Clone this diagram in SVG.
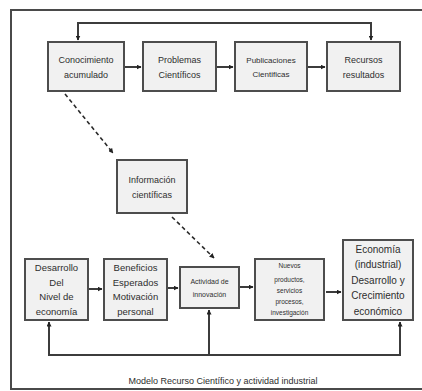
<svg xmlns="http://www.w3.org/2000/svg" width="422" height="391" viewBox="0 0 422 391">
  <style>
    .frame { fill: #ffffff; stroke: #4a4a4a; stroke-width: 2; }
    .box { fill: #f1f1f1; stroke: #4d4d4d; stroke-width: 2; }
    .lbl { font-family: "Liberation Sans", Arial, sans-serif; fill: #2e2e2e; text-anchor: middle; }
    .line { fill: none; stroke: #3c3c3c; stroke-width: 2; }
    .dash { fill: none; stroke: #2a2a2a; stroke-width: 1.6; stroke-dasharray: 4 3; }
  </style>
  <defs>
    <marker id="arr" viewBox="0 0 10 10" refX="9" refY="5" markerWidth="5" markerHeight="5" orient="auto" markerUnits="userSpaceOnUse">
      <path d="M0,0 L10,5 L0,10 z" fill="#222"/>
    </marker>
  </defs>

  <!-- outer frame -->
  <rect class="frame" x="11" y="10" width="420" height="379"/>

  <!-- connectors -->
  <g id="connectors">
    <path class="line" d="M78,40 V23 H371 V40" />
    <path class="line" d="M78,30 V40" marker-end="url(#arr)"/>
    <path class="line" d="M371,30 V40" marker-end="url(#arr)"/>
    <path class="line" d="M125,67 H141" marker-end="url(#arr)"/>
    <path class="line" d="M217,67 H233" marker-end="url(#arr)"/>
    <path class="line" d="M308,67 H325" marker-end="url(#arr)"/>
    <path class="dash" d="M65,94 L113,153" marker-end="url(#arr)"/>
    <path class="dash" d="M172,217 L214,258" marker-end="url(#arr)"/>
    <path class="line" d="M89,289 H102" marker-end="url(#arr)"/>
    <path class="line" d="M168,288 H178" marker-end="url(#arr)"/>
    <path class="line" d="M240,287 H253" marker-end="url(#arr)"/>
    <path class="line" d="M326,292 H341" marker-end="url(#arr)"/>
    <path class="line" d="M49,322 V355 H400 V322" />
    <path class="line" d="M49,332 V322" marker-end="url(#arr)"/>
    <path class="line" d="M400,332 V322" marker-end="url(#arr)"/>
    <path class="line" d="M209,355 V310" marker-end="url(#arr)"/>
  </g>

  <g id="conocimiento">
    <rect class="box" x="48" y="42" width="76" height="49"/>
    <text class="lbl" font-size="9" x="86" y="63">Conocimiento</text>
    <text class="lbl" font-size="9" x="86" y="78">acumulado</text>
  </g>
  <g id="problemas">
    <rect class="box" x="143" y="42" width="73" height="49"/>
    <text class="lbl" font-size="9" x="179.5" y="63">Problemas</text>
    <text class="lbl" font-size="9" x="179.5" y="78">Científicos</text>
  </g>
  <g id="publicaciones">
    <rect class="box" x="235" y="42" width="72" height="49"/>
    <text class="lbl" font-size="8" x="271" y="63">Publicaciones</text>
    <text class="lbl" font-size="8" x="271" y="77">Cientificas</text>
  </g>
  <g id="recursos">
    <rect class="box" x="327" y="42" width="73" height="49"/>
    <text class="lbl" font-size="9" x="363.5" y="63">Recursos</text>
    <text class="lbl" font-size="9" x="363.5" y="78">resultados</text>
  </g>

  <g id="informacion">
    <rect class="box" x="117" y="160" width="70" height="53"/>
    <text class="lbl" font-size="9" x="152" y="183">Información</text>
    <text class="lbl" font-size="9" x="152" y="198">científicas</text>
  </g>

  <g id="desarrollo">
    <rect class="box" x="25" y="259" width="63" height="61"/>
    <text class="lbl" font-size="9.5" x="56.5" y="271">Desarrollo</text>
    <text class="lbl" font-size="9.5" x="56.5" y="286">Del</text>
    <text class="lbl" font-size="9.5" x="56.5" y="300">Nivel de</text>
    <text class="lbl" font-size="9.5" x="56.5" y="315">economía</text>
  </g>
  <g id="beneficios">
    <rect class="box" x="104" y="259" width="63" height="61"/>
    <text class="lbl" font-size="9.5" x="135.5" y="271">Beneficios</text>
    <text class="lbl" font-size="9.5" x="135.5" y="286">Esperados</text>
    <text class="lbl" font-size="9.5" x="135.5" y="300">Motivación</text>
    <text class="lbl" font-size="9.5" x="135.5" y="315">personal</text>
  </g>
  <g id="actividad">
    <rect class="box" x="180" y="267" width="59" height="41"/>
    <text class="lbl" font-size="7" x="209.5" y="284">Actividad de</text>
    <text class="lbl" font-size="7" x="209.5" y="297">innovación</text>
  </g>
  <g id="nuevos">
    <rect class="box" x="255" y="259" width="69" height="61"/>
    <text class="lbl" font-size="6.5" x="289.5" y="268">Nuevos</text>
    <text class="lbl" font-size="6.5" x="289.5" y="282">productos,</text>
    <text class="lbl" font-size="6.5" x="289.5" y="293">servicios</text>
    <text class="lbl" font-size="6.5" x="289.5" y="304">procesos,</text>
    <text class="lbl" font-size="6.5" x="289.5" y="315">investigación</text>
  </g>
  <g id="economia">
    <rect class="box" x="343" y="240" width="70" height="80"/>
    <text class="lbl" font-size="10" x="378" y="253">Economía</text>
    <text class="lbl" font-size="10" x="378" y="268">(industrial)</text>
    <text class="lbl" font-size="10" x="378" y="284">Desarrollo y</text>
    <text class="lbl" font-size="10" x="378" y="299">Crecimiento</text>
    <text class="lbl" font-size="10" x="378" y="315">económico</text>
  </g>

  <text class="lbl" font-size="9" x="223" y="384">Modelo Recurso Científico y actividad industrial</text>
</svg>
